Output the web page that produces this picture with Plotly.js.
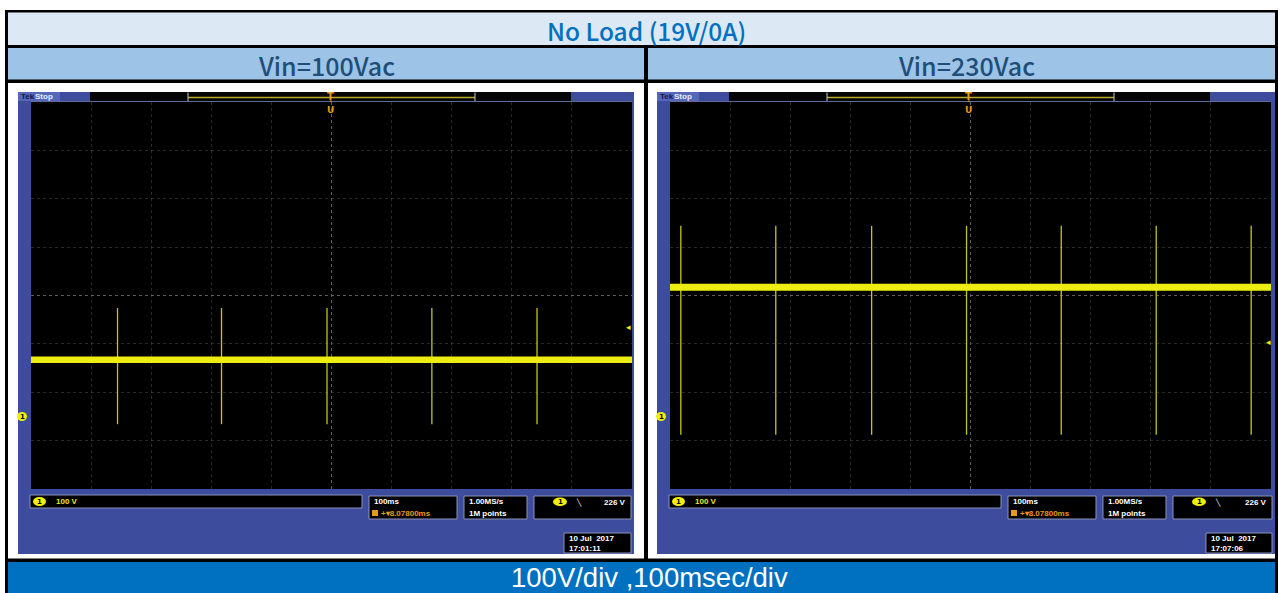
<!DOCTYPE html>
<html>
<head>
<meta charset="utf-8">
<script src="https://cdn.plot.ly/plotly-3.0.1.min.js"></script>
<style>html,body{margin:0;padding:0;background:#fff;}#chart{width:1278px;height:593px;}</style>
</head>
<body>
<div id="chart"></div>
<script>
// ---------- data ----------
const timeRangeMs = [-500, 500];          // 10 div x 100 ms
const voltRange = [-150, 650];            // 8 div x 100 V, ground 1.5 div above bottom
const titleText = "No Load (19V/0A)";
const columnTitles = ["Vin=100Vac", "Vin=230Vac"];
const footerText = "100V/div ,100msec/div";

// Vin=100Vac
const levelTimes100 = [-500, 500];
const levelVolts100 = [117, 117];
const spikeTimes100 = [-356, -183, -7.5, 167, 342];
const spikeTop100 = [224, 224, 224, 224, 224];
const spikeBottom100 = [-16, -16, -16, -16, -16];

// Vin=230Vac
const levelTimes230 = [-500, 500];
const levelVolts230 = [267, 267];
const spikeTimes230 = [-482, -324, -164.5, -6.6, 151, 309, 467];
const spikeTop230 = [394, 394, 394, 394, 394, 394, 394];
const spikeBottom230 = [-38, -38, -38, -38, -38, -38, -38];

// scope readouts
const scaleLabel = "100 V";
const timebaseLabel = "100ms";
const delayLabel = "8.07800ms";
const rateLabel = "1.00MS/s";
const pointsLabel = "1M points";
const trigLabel = "226 V";
const dateLabels = ["10 Jul  2017", "10 Jul  2017"];
const timeLabels = ["17:01:11", "17:07:06"];

// ---------- helpers ----------
const W = 1278, H = 593;
const X = p => p / W;
const Y = p => 1 - p / H;
const shapes = [];
const annotations = [];
function rect(x0, y0, x1, y1, fill, line, lw) {
  shapes.push({type: 'rect', xref: 'paper', yref: 'paper', layer: 'below',
    x0: X(x0), x1: X(x1), y0: Y(y1), y1: Y(y0), fillcolor: fill,
    line: {width: line ? (lw || 1) : 0, color: line || 'rgba(0,0,0,0)'}});
}
function circ(x0, y0, x1, y1, fill) {
  shapes.push({type: 'circle', xref: 'paper', yref: 'paper', layer: 'below',
    x0: X(x0), x1: X(x1), y0: Y(y1), y1: Y(y0), fillcolor: fill, line: {width: 0}});
}
function seg(x0, y0, x1, y1, color, w) {
  shapes.push({type: 'line', xref: 'paper', yref: 'paper', layer: 'below',
    x0: X(x0), x1: X(x1), y0: Y(y0), y1: Y(y1), line: {color: color, width: w || 1}});
}
function txt(x, y, text, size, color, anchor, family, bold, weight) {
  const f = {size: size, color: color, family: family || 'Liberation Sans Narrow, Liberation Sans, Arial'};
  if (weight) f.weight = weight;
  annotations.push({xref: 'paper', yref: 'paper', x: X(x), y: Y(y), text: bold ? '<b>' + text + '</b>' : text,
    showarrow: false, xanchor: anchor || 'center', yanchor: 'middle', font: f});
}

// ---------- table structure ----------
rect(5, 10, 1278, 593, '#000000');
rect(8, 12.5, 1275, 45, '#dde8f5');
rect(8, 48, 644, 79.5, '#9dc3e6');
rect(648, 48, 1275, 79.5, '#9dc3e6');
rect(8, 83, 644, 558.5, '#ffffff');
rect(648, 83, 1275, 558.5, '#ffffff');
rect(8, 562, 1275, 593, '#0070c0');
const headFont = 'Noto Sans CJK JP, Noto Sans';
txt(646, 30.5, titleText, 24.5, '#0070c0', 'center', headFont, false, 500);
txt(326, 65, columnTitles[0], 25, '#1f4e79', 'center', headFont, false, 500);
txt(966, 65, columnTitles[1], 25, '#1f4e79', 'center', headFont, false, 500);
txt(649, 577, footerText, 27.5, '#ffffff', 'center', 'Liberation Sans, Arial');

// ---------- scope frames ----------
function scope(dx, idx) {
  const ORANGE = '#e89a1c', YEL = '#f2f000', BOX = '#8a92b8';
  rect(18 + dx, 92, 634 + dx + (idx ? 2 : 0), 554, '#3e4c9e');
  rect(18 + dx, 92, 60 + dx, 101, '#5566bb');
  txt(19 + dx, 96.5, 'Tek', 8, '#12164a', 'left', null, true);
  txt(33 + dx, 96.5, 'Stop', 8, '#e6ecff', 'left', null, true);
  rect(90 + dx, 92, 571 + dx, 101, '#050505');
  seg(188 + dx, 97.5, 475 + dx, 97.5, '#b9ab2a', 1.5);
  seg(188 + dx, 92.5, 188 + dx, 101, '#c8c8c8', 1);
  seg(475 + dx, 92.5, 475 + dx, 101, '#c8c8c8', 1);
  rect(31 + dx, 101, 632 + dx, 489, '#000000');
  seg(31 + dx, 101.5, 632 + dx, 101.5, '#5d6a9a', 1);
  txt(330 + dx, 96.5, 'Ţ', 10, ORANGE, 'center', 'DejaVu Sans', true);
  txt(330 + dx, 110, 'U', 9, ORANGE, 'center', 'DejaVu Sans', true);
  // ground marker & trigger level
  circ(17 + dx, 412, 27 + dx, 421, YEL);
  txt(22 + dx, 416.5, '1', 7, '#000', 'center', 'DejaVu Sans', true);
  txt(628 + dx + (idx ? 1 : 0), idx ? 342 : 327, '◂', 9, YEL, 'center', 'DejaVu Sans');
  // status boxes
  rect(30 + dx, 495, 362 + dx, 508, '#000', BOX, 1);
  circ(33 + dx, 497, 46 + dx, 506, YEL);
  txt(39.5 + dx, 501.5, '1', 7, '#000', 'center', 'DejaVu Sans', true);
  txt(54 + dx, 501.5, scaleLabel, 8, '#e8e830', 'left', null, true);
  rect(369 + dx, 496, 457 + dx, 519, '#000', BOX, 1);
  txt(372 + dx, 501.5, timebaseLabel, 8, '#ffffff', 'left', null, true);
  rect(372 + dx, 510, 378 + dx, 516, ORANGE);
  txt(379 + dx, 513.5, '+▾' + delayLabel, 8, ORANGE, 'left', null, true);
  rect(464 + dx, 496, 527 + dx, 519, '#000', BOX, 1);
  txt(467 + dx, 501.5, rateLabel, 8, '#ffffff', 'left', null, true);
  txt(467 + dx, 513.5, pointsLabel, 8, '#ffffff', 'left', null, true);
  rect(534 + dx, 496, 631 + dx + (idx ? 2 : 0), 519, '#000', BOX, 1);
  circ(553 + dx, 497.5, 567 + dx, 506, YEL);
  txt(560 + dx, 502, '1', 7, '#000', 'center', 'DejaVu Sans', true);
  txt(579 + dx, 502, '╲', 7, '#ffffff', 'center', 'DejaVu Sans', true);
  txt(628 + dx + (idx ? 2 : 0), 502, trigLabel, 8, '#ffffff', 'right', null, true);
  rect(564 + dx + (idx ? 3 : 0), 533, 631 + dx + (idx ? 2 : 0), 553, '#000', BOX, 1);
  txt(567 + dx + (idx ? 3 : 0), 538.5, dateLabels[idx], 8, '#ffffff', 'left', null, true);
  txt(567 + dx + (idx ? 3 : 0), 548, timeLabels[idx], 8, '#ffffff', 'left', null, true);
}
scope(0, 0);
scope(639, 1);

// center cross lines (graticule)
['', '2'].forEach(s => {
  shapes.push({type: 'line', xref: 'x' + s, yref: 'y' + s + ' domain', x0: 0, x1: 0, y0: 0, y1: 1,
    line: {color: 'rgba(140,140,140,0.7)', width: 1, dash: 'dot'}, layer: 'below'});
  shapes.push({type: 'line', xref: 'x' + s + ' domain', yref: 'y' + s, x0: 0, x1: 1, y0: 250, y1: 250,
    line: {color: 'rgba(140,140,140,0.7)', width: 1, dash: 'dot'}, layer: 'below'});
});

// ---------- traces ----------
function spikeXY(times, top, bottom) {
  const x = [], y = [];
  times.forEach((t, i) => { x.push(t, t, null); y.push(top[i], bottom[i], null); });
  return {x, y};
}
const s100 = spikeXY(spikeTimes100, spikeTop100, spikeBottom100);
const s230 = spikeXY(spikeTimes230, spikeTop230, spikeBottom230);
const data = [
  {x: s100.x, y: s100.y, xaxis: 'x', yaxis: 'y', mode: 'lines', line: {color: '#c4c41a', width: 1.3}, hoverinfo: 'skip'},
  {x: levelTimes100, y: levelVolts100, xaxis: 'x', yaxis: 'y', mode: 'lines', line: {color: '#eded12', width: 6.5}, hoverinfo: 'skip'},
  {x: s230.x, y: s230.y, xaxis: 'x2', yaxis: 'y2', mode: 'lines', line: {color: '#c4c41a', width: 1.3}, hoverinfo: 'skip'},
  {x: levelTimes230, y: levelVolts230, xaxis: 'x2', yaxis: 'y2', mode: 'lines', line: {color: '#eded12', width: 7}, hoverinfo: 'skip'}
];

function xax(dom) {
  return {domain: dom, range: timeRangeMs, tick0: -500, dtick: 100, showgrid: true, griddash: 'dot',
    gridcolor: 'rgba(90,90,90,0.45)', gridwidth: 1, zeroline: false, showticklabels: false,
    ticks: '', showline: false, fixedrange: true};
}
function yax(dom, anchor) {
  return {domain: dom, range: voltRange, tick0: -150, dtick: 100, showgrid: true, griddash: 'dot',
    gridcolor: 'rgba(90,90,90,0.45)', gridwidth: 1, zeroline: false, showticklabels: false,
    ticks: '', showline: false, fixedrange: true, anchor: anchor};
}
const yDom = [Y(489), Y(102)];
const layout = {
  width: W, height: H, margin: {l: 0, r: 0, t: 0, b: 0, pad: 0},
  paper_bgcolor: '#ffffff', plot_bgcolor: '#000000', showlegend: false,
  xaxis: Object.assign(xax([X(31), X(632)]), {anchor: 'y'}),
  yaxis: yax(yDom, 'x'),
  xaxis2: Object.assign(xax([X(670), X(1271)]), {anchor: 'y2'}),
  yaxis2: yax(yDom, 'x2'),
  shapes: shapes, annotations: annotations
};
Plotly.newPlot('chart', data, layout, {staticPlot: true, displayModeBar: false});
</script>
</body>
</html>
